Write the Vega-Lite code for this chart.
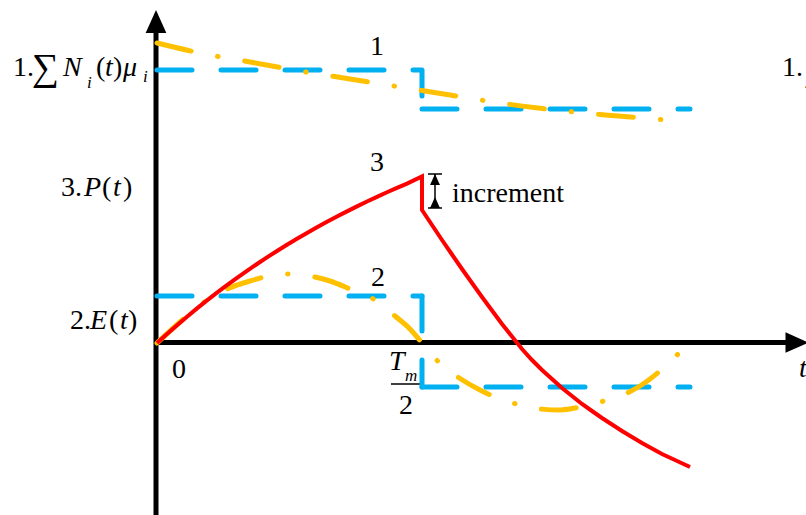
{
  "$schema": "https://vega.github.io/schema/vega-lite/v6.json",
  "width": 806,
  "height": 515,
  "autosize": "none",
  "padding": 0,
  "background": "white",
  "config": {"view": {"stroke": null}},
  "datasets": {
    "axes": [
      {"path": "vAxis", "t": -1, "v": -175}, {"path": "vAxis", "t": -1, "v": 313},
      {"path": "tAxis", "t": -1, "v": 0.5}, {"path": "tAxis", "t": 632, "v": 0.5}
    ],
    "thin": [
      {"path": "bar", "t": 234, "v": -41}, {"path": "bar", "t": 265, "v": -41},
      {"path": "stem", "t": 278, "v": 135}, {"path": "stem", "t": 278, "v": 169},
      {"path": "capTop", "t": 271, "v": 169}, {"path": "capTop", "t": 285, "v": 169},
      {"path": "capBottom", "t": 271, "v": 135}, {"path": "capBottom", "t": 285, "v": 135}
    ],
    "blue": [
      {"path": "b1a", "t": 0, "v": 273}, {"path": "b1a", "t": 265, "v": 273}, {"path": "b1a", "t": 265, "v": 234},
      {"path": "b1b", "t": 265, "v": 234}, {"path": "b1b", "t": 533, "v": 234},
      {"path": "b2a", "t": 0, "v": 47}, {"path": "b2a", "t": 265, "v": 47},
      {"path": "b2v", "t": 265, "v": 47}, {"path": "b2v", "t": 265, "v": -44},
      {"path": "b2b", "t": 265, "v": -44}, {"path": "b2b", "t": 533, "v": -44}
    ],
    "yellow": [
      {"path": "y1", "t": 0, "v": 300}, {"path": "y1", "t": 43, "v": 290}, {"path": "y1", "t": 93, "v": 281},
      {"path": "y1", "t": 143, "v": 272}, {"path": "y1", "t": 193, "v": 264}, {"path": "y1", "t": 243, "v": 256},
      {"path": "y1", "t": 293, "v": 248}, {"path": "y1", "t": 343, "v": 240}, {"path": "y1", "t": 393, "v": 233.5},
      {"path": "y1", "t": 443, "v": 228.5}, {"path": "y1", "t": 493, "v": 224.5}, {"path": "y1", "t": 510, "v": 223},
      {"path": "y2", "t": 0, "v": 0}, {"path": "y2", "t": 23, "v": 21}, {"path": "y2", "t": 43, "v": 38},
      {"path": "y2", "t": 68, "v": 53}, {"path": "y2", "t": 93, "v": 62}, {"path": "y2", "t": 118, "v": 68},
      {"path": "y2", "t": 133, "v": 69}, {"path": "y2", "t": 153, "v": 67}, {"path": "y2", "t": 173, "v": 62},
      {"path": "y2", "t": 193, "v": 54}, {"path": "y2", "t": 218, "v": 43}, {"path": "y2", "t": 238, "v": 27},
      {"path": "y2", "t": 253, "v": 14}, {"path": "y2", "t": 265, "v": 0}, {"path": "y2", "t": 273, "v": -9.5},
      {"path": "y2", "t": 283, "v": -20.5}, {"path": "y2", "t": 303, "v": -35.5}, {"path": "y2", "t": 323, "v": -47},
      {"path": "y2", "t": 343, "v": -56}, {"path": "y2", "t": 363, "v": -62}, {"path": "y2", "t": 383, "v": -66},
      {"path": "y2", "t": 403, "v": -67}, {"path": "y2", "t": 423, "v": -64}, {"path": "y2", "t": 443, "v": -59},
      {"path": "y2", "t": 463, "v": -53}, {"path": "y2", "t": 483, "v": -43}, {"path": "y2", "t": 503, "v": -28},
      {"path": "y2", "t": 524, "v": -8}
    ],
    "red": [
      {"t": 0, "v": 0}, {"t": 10, "v": 9}, {"t": 20, "v": 17.8}, {"t": 30, "v": 26.3}, {"t": 40, "v": 34.6},
      {"t": 50, "v": 42.6}, {"t": 60, "v": 50.3}, {"t": 70, "v": 57.8}, {"t": 80, "v": 65.1}, {"t": 90, "v": 72.1},
      {"t": 100, "v": 79}, {"t": 110, "v": 85.6}, {"t": 120, "v": 92}, {"t": 130, "v": 98.2}, {"t": 140, "v": 104.2},
      {"t": 150, "v": 110}, {"t": 160, "v": 115.7}, {"t": 170, "v": 121.2}, {"t": 180, "v": 126.5}, {"t": 190, "v": 131.6},
      {"t": 200, "v": 136.6}, {"t": 210, "v": 141.5}, {"t": 220, "v": 146.1}, {"t": 230, "v": 150.7}, {"t": 240, "v": 155.1},
      {"t": 250, "v": 159.4}, {"t": 265, "v": 166.5},
      {"t": 265, "v": 133},
      {"t": 275, "v": 118}, {"t": 285, "v": 103}, {"t": 295, "v": 88.5}, {"t": 305, "v": 74}, {"t": 315, "v": 60},
      {"t": 325, "v": 46}, {"t": 335, "v": 32.5}, {"t": 345, "v": 19}, {"t": 355, "v": 6.5}, {"t": 365, "v": -6},
      {"t": 375, "v": -17}, {"t": 385, "v": -27}, {"t": 395, "v": -36}, {"t": 405, "v": -45}, {"t": 415, "v": -53},
      {"t": 425, "v": -61}, {"t": 435, "v": -68}, {"t": 445, "v": -75}, {"t": 455, "v": -81.5}, {"t": 465, "v": -88},
      {"t": 475, "v": -94}, {"t": 485, "v": -100}, {"t": 495, "v": -105.5}, {"t": 505, "v": -111}, {"t": 519, "v": -117.5},
      {"t": 533, "v": -124}
    ],
    "bigHeads": [
      {"dir": "up", "t": -1, "v": 321.5},
      {"dir": "right", "t": 640, "v": 0.5}
    ],
    "smallHeads": [
      {"dir": "up", "t": 278, "v": 163.5},
      {"dir": "down", "t": 278, "v": 140.5}
    ],
    "roman": [
      {"s": "1", "t": 213, "v": 288},
      {"s": "3", "t": 213, "v": 172},
      {"s": "2", "t": 214, "v": 57},
      {"s": "increment", "t": 295, "v": 141},
      {"s": "0", "t": 15, "v": -35},
      {"s": "2", "t": 242, "v": -71},
      {"s": "3.", "t": -96, "v": 147},
      {"s": "(", "t": -55, "v": 147},
      {"s": ")", "t": -34, "v": 147},
      {"s": "2.", "t": -87, "v": 14},
      {"s": "(", "t": -48, "v": 14},
      {"s": ")", "t": -29, "v": 14},
      {"s": "1.", "t": -144, "v": 267},
      {"s": "(", "t": -61, "v": 267},
      {"s": ")", "t": -44, "v": 267},
      {"s": "1.", "t": 625, "v": 267}
    ],
    "italic": [
      {"s": "P", "t": -73, "v": 147},
      {"s": "t", "t": -44, "v": 147},
      {"s": "E", "t": -67, "v": 14},
      {"s": "t", "t": -37, "v": 14},
      {"s": "N", "t": -94, "v": 267},
      {"s": "t", "t": -52, "v": 267},
      {"s": "μ", "t": -34, "v": 267},
      {"s": "T", "t": 232, "v": -27},
      {"s": "t", "t": 642, "v": -34}
    ],
    "subscripts": [
      {"s": "i", "t": -70, "v": 255},
      {"s": "i", "t": -14, "v": 261},
      {"s": "m", "t": 248, "v": -38}
    ],
    "sums": [
      {"s": "∑", "t": -125, "v": 263},
      {"s": "∑", "t": 647, "v": 263}
    ]
  },
  "encoding": {
    "x": {"field": "t", "type": "quantitative", "axis": null, "scale": {"domain": [-157, 649], "nice": false, "zero": false}},
    "y": {"field": "v", "type": "quantitative", "axis": null, "scale": {"domain": [-172, 343], "nice": false, "zero": false}}
  },
  "layer": [
    {
      "data": {"name": "axes"},
      "mark": {"type": "line", "color": "black", "strokeWidth": 5, "strokeCap": "butt"},
      "encoding": {"detail": {"field": "path"}, "order": {"value": null}}
    },
    {
      "data": {"name": "thin"},
      "mark": {"type": "line", "color": "black", "strokeWidth": 1.5, "strokeCap": "butt"},
      "encoding": {"detail": {"field": "path"}, "order": {"value": null}}
    },
    {
      "data": {"name": "blue"},
      "mark": {"type": "line", "color": "#00B0F0", "strokeWidth": 5, "strokeCap": "round", "strokeJoin": "round", "strokeDash": [35, 29]},
      "encoding": {"detail": {"field": "path"}, "order": {"value": null}}
    },
    {
      "data": {"name": "yellow"},
      "mark": {"type": "line", "color": "#FFC000", "strokeWidth": 5, "strokeCap": "round", "interpolate": "monotone", "strokeDash": [35, 27, 0.5, 27]},
      "encoding": {"detail": {"field": "path"}, "order": {"value": null}}
    },
    {
      "data": {"name": "red"},
      "mark": {"type": "line", "color": "#FF0000", "strokeWidth": 4, "strokeJoin": "miter", "strokeCap": "butt"},
      "encoding": {"order": {"value": null}}
    },
    {
      "data": {"name": "bigHeads"},
      "mark": {"type": "point", "filled": true, "color": "black", "opacity": 1, "size": 529, "strokeWidth": 0},
      "encoding": {
        "shape": {"field": "dir", "type": "nominal", "legend": null,
          "scale": {"domain": ["up", "right"], "range": ["M0,-1L-0.9,1L0.9,1Z", "M1,0L-1,-0.9L-1,0.9Z"]}}
      }
    },
    {
      "data": {"name": "smallHeads"},
      "mark": {"type": "point", "filled": true, "color": "black", "opacity": 1, "size": 121, "strokeWidth": 0},
      "encoding": {
        "shape": {"field": "dir", "type": "nominal", "legend": null,
          "scale": {"domain": ["up", "down"], "range": ["M0,-1L-0.8,1L0.8,1Z", "M0,1L-0.8,-1L0.8,-1Z"]}}
      }
    },
    {
      "data": {"name": "roman"},
      "mark": {"type": "text", "font": "Liberation Serif", "fontSize": 28, "align": "left", "baseline": "alphabetic", "color": "black"},
      "encoding": {"text": {"field": "s"}}
    },
    {
      "data": {"name": "italic"},
      "mark": {"type": "text", "font": "Liberation Serif", "fontSize": 28, "fontStyle": "italic", "align": "left", "baseline": "alphabetic", "color": "black"},
      "encoding": {"text": {"field": "s"}}
    },
    {
      "data": {"name": "subscripts"},
      "mark": {"type": "text", "font": "Liberation Serif", "fontSize": 17, "fontStyle": "italic", "align": "left", "baseline": "alphabetic", "color": "black"},
      "encoding": {"text": {"field": "s"}}
    },
    {
      "data": {"name": "sums"},
      "mark": {"type": "text", "font": "Liberation Serif", "fontSize": 38, "align": "left", "baseline": "alphabetic", "color": "black"},
      "encoding": {"text": {"field": "s"}}
    }
  ]
}
